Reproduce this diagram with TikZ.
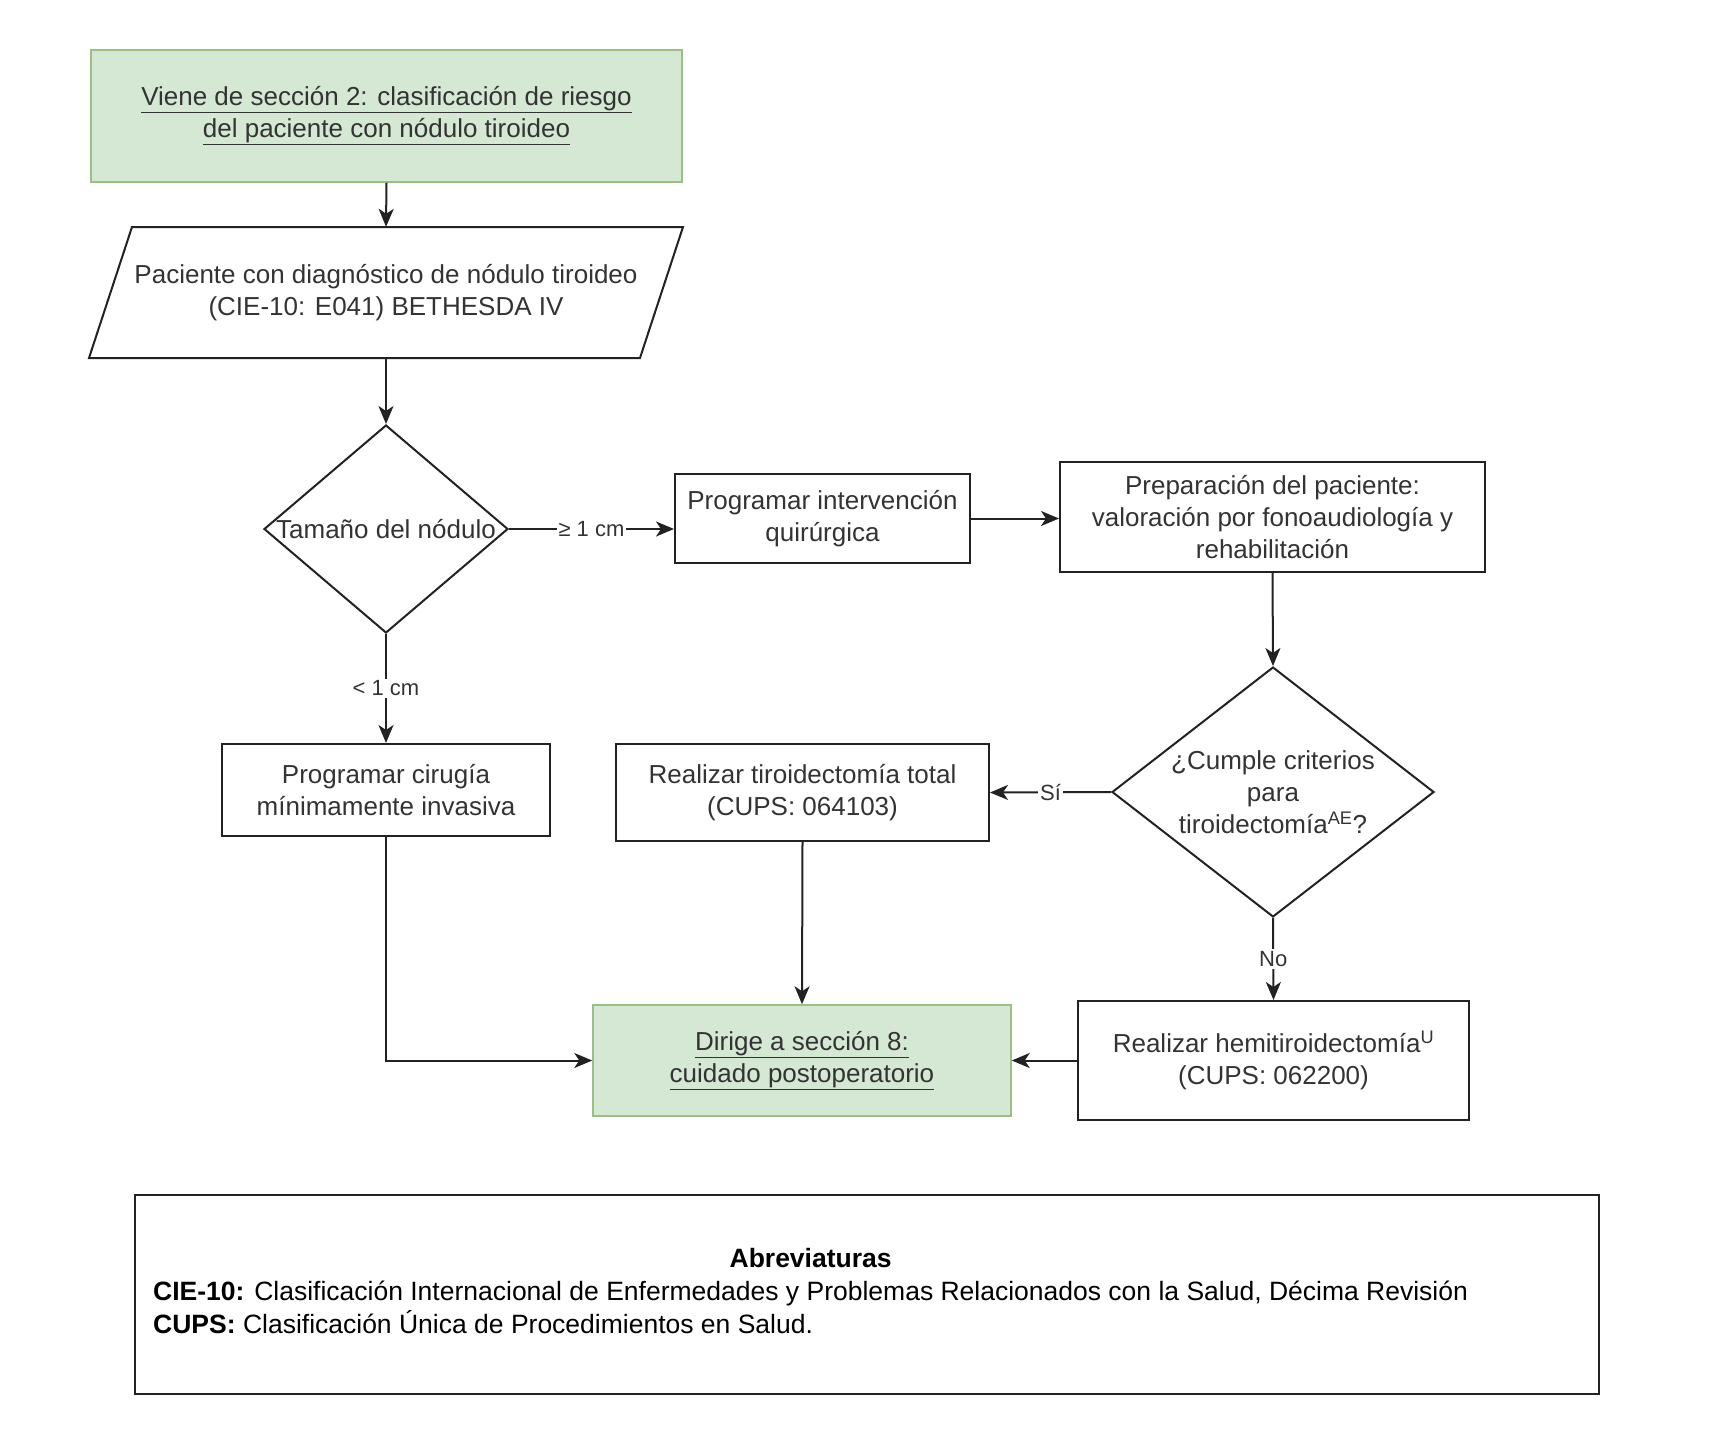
\documentclass[tikz,border=0pt]{standalone}
\usepackage{fontspec}
\setmainfont{Liberation Sans}
\usetikzlibrary{arrows.meta,shapes.geometric}
\definecolor{txt}{HTML}{333333}
\definecolor{linec}{HTML}{222222}
\definecolor{gfill}{HTML}{D5E8D4}
\definecolor{gborder}{HTML}{9CBF86}
\tikzset{
  box/.style={draw=linec, line width=2pt, fill=white, text=txt, align=center, inner sep=2pt},
  gbox/.style={draw=gborder, fill=gfill, line width=1.5pt, text=txt, align=center, inner sep=2pt},
  dec/.style={diamond, draw=linec, line width=2pt, inner sep=0pt},
  dtext/.style={text=txt, align=center, inner sep=0pt},
  arr/.style={draw=linec, line width=2pt, -{Stealth[length=18pt,width=15pt,inset=5pt]}},
  lbl/.style={fill=white, text=txt, font=\fontsize{22}{26}\selectfont, inner sep=2pt}
}
\begin{document}
\begin{tikzpicture}[x=1pt,y=-1pt,font=\fontsize{26}{32}\selectfont]
\useasboundingbox (0,0) rectangle (1721,1437);
\fill[white] (0,0) rectangle (1721,1437);

\node[gbox, minimum width=591pt, minimum height=132pt] (top) at (386.5,116)
  {\underline{Viene de sección 2: clasificación de riesgo}\\\underline{del paciente con nódulo tiroideo}};

\draw[draw=linec, line width=2pt, fill=white] (132,227) -- (683,227) -- (640,358) -- (89,358) -- cycle;
\node[text=txt, align=center, minimum width=551pt, minimum height=131pt, inner sep=0pt] (pat) at (386,292.5)
  {Paciente con diagnóstico de nódulo tiroideo\\(CIE-10: E041) BETHESDA IV};

\node[dec, minimum width=244pt, minimum height=208pt] (d1) at (386,529) {};
\node[dtext] (d1t) at (d1.center) {Tamaño del nódulo};

\node[box, minimum width=295pt, minimum height=89pt] (prog) at (822.5,518.5)
  {Programar intervención\\quirúrgica};

\node[box, minimum width=425pt, minimum height=110pt] (prep) at (1272.5,517)
  {Preparación del paciente:\\valoración por fonoaudiología y\\rehabilitación};

\node[dec, minimum width=322pt, minimum height=250pt] (d2) at (1273,792) {};
\node[dtext] (d2t) at (d2.center)
  {¿Cumple criterios\\para\\tiroidectomía\textsuperscript{AE}?};

\node[box, minimum width=328pt, minimum height=92pt] (cir) at (386,790)
  {Programar cirugía\\mínimamente invasiva};

\node[box, minimum width=373pt, minimum height=97pt] (tot) at (802.5,792.5)
  {Realizar tiroidectomía total\\(CUPS: 064103)};

\node[gbox, minimum width=418pt, minimum height=111pt] (dir) at (802,1060.5)
  {\underline{Dirige a sección 8:}\\\underline{cuidado postoperatorio}};

\node[box, minimum width=391pt, minimum height=119pt] (hemi) at (1273.5,1060.5)
  {Realizar hemitiroidectomía\textsuperscript{U}\\(CUPS: 062200)};

\node[draw=linec, line width=2pt, minimum width=1464pt, minimum height=199pt, inner sep=0pt] (abox) at (867,1294.5) {};
\node[anchor=west, inner sep=0pt, text=black, font=\fontsize{26.5}{32.5}\selectfont] (abbr) at (153,1294)
  {\begin{tabular}{@{}l@{}}\multicolumn{1}{@{}c@{}}{\textbf{Abreviaturas}}\\
  \textbf{CIE-10:} Clasificación Internacional de Enfermedades y Problemas Relacionados con la Salud, Décima Revisión\\
  \textbf{CUPS:} Clasificación Única de Procedimientos en Salud.\end{tabular}};

\draw[arr] (top.south) -- (pat.north);
\draw[arr] (pat.south) -- (d1.north);
\draw[arr] (d1.east) -- node[lbl] {≥ 1 cm} (d1.east -| prog.west);
\draw[arr] (prog.east) -- (prog.east -| prep.west);
\draw[arr] (prep.south) -- (d2.north);
\draw[arr] (d1.south) -- node[lbl] {< 1 cm} (cir.north);
\draw[arr] (d2.west) -- node[lbl] {Sí} (tot.east);
\draw[arr] (d2.south) -- node[lbl] {No} (hemi.north);
\draw[arr] (tot.south) -- (dir.north);
\draw[arr] (hemi.west) -- (dir.east);
\draw[arr] (cir.south) |- (dir.west);
\end{tikzpicture}
\end{document}
